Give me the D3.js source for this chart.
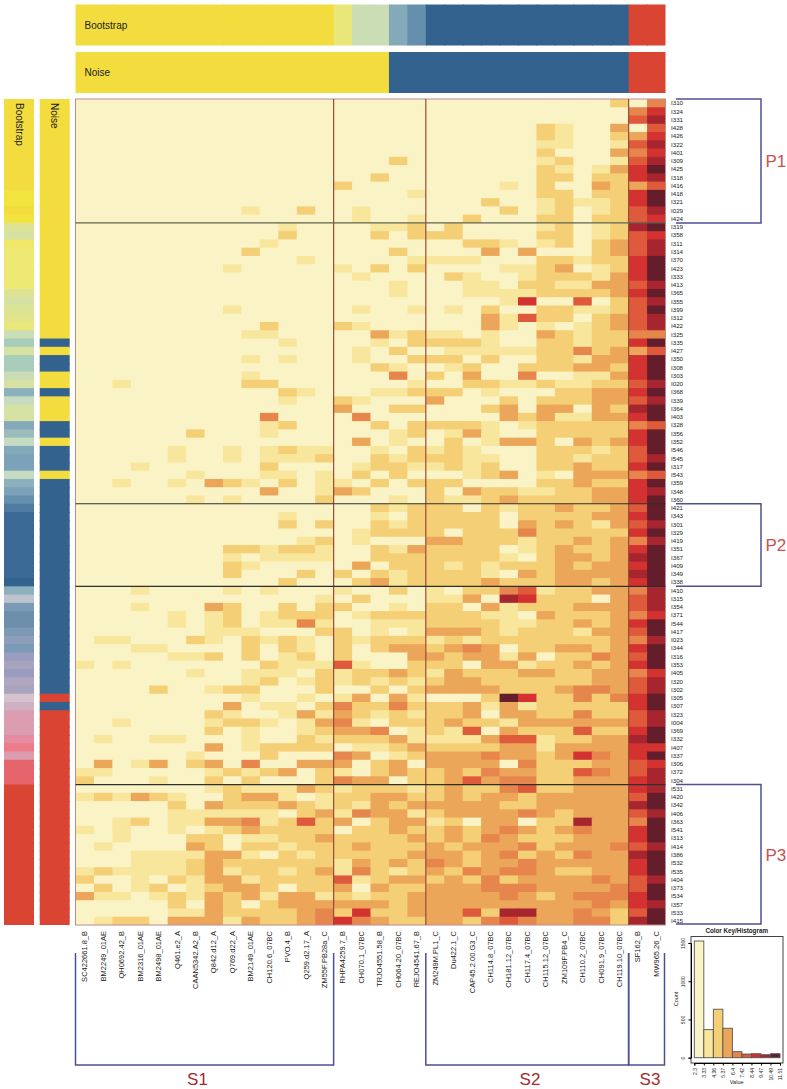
<!DOCTYPE html>
<html>
<head>
<meta charset="utf-8">
<script src="https://cdnjs.cloudflare.com/ajax/libs/d3/7.8.5/d3.min.js"></script>
<style>
html, body { margin: 0; padding: 0; background: #fff; }
svg { display: block; font-family: "Liberation Sans", Arial, sans-serif; }
</style>
</head>
<body>
<div id="viewportContainer"></div>
<script>
/* --- data --- */
const rowLabels = [
"I310","I324","I331","I428","I426","I322","I401","I309","I425","I318","I416","I418","I321","I029","I424",
"I319","I358","I311","I314","I370","I423","I333","I413","I365","I355","I399","I312","I422","I325","I335",
"I427","I350","I308","I303","I020","I368","I339","I364","I403","I328","I356","I352","I546","I545","I317",
"I543","I359","I348","I360","I421","I343","I301","I329","I419","I351","I367","I409","I349","I338","I410",
"I315","I354","I371","I544","I417","I023","I344","I316","I353","I405","I320","I302","I305","I307","I323",
"I004","I369","I332","I407","I337","I306","I372","I304","I531","I420","I342","I406","I363","I541","I313",
"I414","I386","I532","I535","I404","I373","I534","I357","I533","I415"
];

const columnLabels = [
"SC422661.8_B","BM2249_01AE","QH0692.42_B","BM2316_01AE","BM2498_01AE","Q461.e2_A","CAAN5342.A2_B",
"Q842.d12_A","Q769.d22_A","BM2149_01AE","CH120.6_07BC","PVO.4_B","Q259.d2.17_A","ZM55F.PB28a_C",
"RHPA4259.7_B","CH070.1_07BC","TRJO4551.58_B","CH064.20_07BC","REJO4541.67_B",
"ZM249M.PL1_C","Du422.1_C","CAP45.2.00.G3_C","CH114.8_07BC","CH181.12_07BC","CH117.4_07BC",
"CH115.12_07BC","ZM109F.PB4_C","CH110.2_07BC","CH091.9_07BC","CH119.10_07BC",
"SF162_B","MW965.26_C"
];

// one string per row, digit = colour bin of the cell (groups: 14 + 5 + 11 + 2 columns)
const cellBins = [
"00000000000000 00000 00000000002 04",
"00000000000000 00000 00000000000 46",
"00000000000000 00000 00000000000 57",
"00000000000000 00000 00000021003 05",
"00000000000000 00000 00000021002 36",
"00000000000000 00000 00000011001 57",
"00000000000000 00000 00000020003 46",
"00000000000000 00020 00000012001 57",
"00000000000000 00000 00000021013 68",
"00000000000000 00200 00000022022 67",
"00000000000000 20000 00001020032 35",
"00000000000000 00001 00000022022 68",
"00000000000000 00000 00020012112 68",
"00000000010020 01000 00002012012 57",
"00000000000000 01001 00200022022 56",
"00000000000100 00112 02000012012 78",
"00000000000200 00202 22000022012 56",
"00000000001000 00000 00221012023 57",
"00000000020000 00020 00030300023 57",
"00000000000010 00001 11100022122 68",
"00000000100000 10202 00001123012 68",
"00000000000000 01000 02100122213 68",
"00000000000000 00010 00110221133 57",
"00000000000000 00010 00111122223 68",
"00000000000000 00000 00001600502 57",
"00000000100000 01001 01020022112 58",
"00000000000000 00000 00031522023 57",
"00000000002000 21000 00031010123 57",
"00000000011000 00312 11010032122 44",
"00000000000100 00102 22210022122 68",
"00000000000000 01020 01111122423 35",
"00000000010100 01002 22020022133 68",
"00000000000000 00210 01200222332 68",
"00000000010000 00040 20300400113 68",
"00100000022000 00001 00221121122 57",
"00000000000210 00112 22010002233 68",
"00000000000100 21000 30002022233 57",
"00000000000000 30022 00023033032 78",
"00000000004000 04000 00003231133 68",
"00000000001200 00202 22210122222 45",
"00000020001000 00012 01310022222 68",
"00000000000000 03010 02013320323 68",
"00000100101211 00102 12100022212 58",
"00000100101112 00212 22110022122 57",
"00010000002000 01221 12120022322 68",
"00000010001101 02020 00123010333 45",
"00100103210201 10202 22000022322 68",
"00000000003001 32000 20322112233 67",
"00000010100002 00010 21123222233 68",
"00000000000000 00212 22021223223 58",
"00000000000100 00102 22220222233 68",
"00000000000202 00212 22220323213 57",
"00000000000000 01222 20222422222 68",
"00000000000012 01000 33222122323 47",
"00000000221221 00213 22220123223 68",
"00000000101111 00222 22221023323 78",
"00000000210000 03022 21212223233 68",
"00000000200020 20212 22210323333 78",
"00000000000200 02312 22232223323 68",
"00010000101000 10020 10224512233 47",
"00000000000001 02000 11307622203 57",
"00010003200202 20010 22031222333 57",
"00000101201222 01222 22211032223 46",
"00000101201141 00111 22221122323 68",
"00000001110002 20101 33321222133 58",
"01100021021210 21222 12122222223 47",
"00011000020210 20233 23430223323 68",
"00000112020120 20003 32331302243 58",
"10100000002111 51002 22033122323 68",
"00000010011102 12232 13222332233 46",
"00000000012012 12121 23322222233 57",
"00002001220002 00202 33332223443 57",
"00000000010010 13031 00028622424 68",
"00000000301102 42242 22313122222 68",
"00000002100131 32121 22303322422 57",
"00100001221013 41022 23221333333 57",
"00000002010012 33401 21503222522 68",
"01001100010021 22231 11135512233 78",
"00000003012222 01123 22223313333 66",
"00000010002000 43012 33343323643 68",
"03013023040033 30230 33330422233 56",
"11000001212302 10232 23243322543 57",
"20001002020002 43302 23534422333 67",
"00000001211132 12221 23224522333 67",
"12132100233101 22332 23233233333 58",
"00000203222321 21323 33332233333 78",
"00000111111023 14331 23333432333 57",
"00120113341252 30233 12033022733 48",
"10100101232222 02232 23234323433 68",
"00100022011223 22223 23243222333 68",
"01000032022122 23222 32333423334 57",
"00011113310212 22223 33234232433 78",
"00011123222222 13232 43233433333 68",
"12111123122123 14212 32434432233 68",
"20010213312222 51233 23242333343 57",
"02012012332022 30322 33344433334 58",
"31101213231331 21223 33334323444 68",
"00000203202333 33323 33333333343 67",
"00000113222234 26223 33527733432 58",
"01220333132234 64322 33245433442 78"
];

// bootstrap support, as steps along the yellow - blue - red ramp
const rowBootstrap = [
0,0,0,0,0,0,0,0,0,0,0,1,1,0,1,
6,7,2,3,3,3,3,3,6,7,6,5,4,8,10,
7,10,10,8,7,12,9,7,7,13,11,9,13,14,14,
9,12,14,15,16,17,17,17,17,17,17,17,17,18,12,
19,20,21,21,20,22,20,23,24,23,25,24,26,27,28,
28,28,29,30,28,31,31,31,32,32,32,32,32,32,32,
32,32,32,32,32,32,32,32,32,32
];
const columnBootstrap = [0,0,0,0,0,0,0,0,0,0,0,0,0,0,4,8,8,13,15,18,18,18,18,18,18,18,18,18,18,18,32,32];

// noise class per row and per column: 0 yellow, 18 blue, 32 red
const rowNoise = [
0,0,0,0,0,0,0,0,0,0,0,0,0,0,0,
0,0,0,0,0,0,0,0,0,0,0,0,0,0,18,
0,18,18,0,0,18,0,0,0,18,18,0,18,18,18,
0,18,18,18,18,18,18,18,18,18,18,18,18,18,18,
18,18,18,18,18,18,18,18,18,18,18,18,32,18,32,
32,32,32,32,32,32,32,32,32,32,32,32,32,32,32,
32,32,32,32,32,32,32,32,32,32
];
const columnNoise = [0,0,0,0,0,0,0,0,0,0,0,0,0,0,0,0,0,18,18,18,18,18,18,18,18,18,18,18,18,18,32,32];

// colour key histogram
const histEdges = ["2.3","3.33","4.36","5.37","6.4","7.42","8.44","9.47","10.49","11.51"];
const histCounts = [1526,367,634,385,79,48,52,39,52];
const histTicks = [0,500,1000,1500];

// clusters
const columnGroups = [
    {label: "S1", from: 0, to: 14, labelX: 197.5},
    {label: "S2", from: 19, to: 30, labelX: 530},
    {label: "S3", from: 30, to: 32, labelX: 650}
];
const rowGroups = [
    {label: "P1", from: 0, to: 15},
    {label: "P2", from: 49, to: 59},
    {label: "P3", from: 83, to: 100}
];
const rowCuts = [15, 49, 59, 83];
const columnCuts = [14, 19, 30];


/* --- layout --- */
const viewport = {width: 787, height: 1089};
const heat = {left: 75.5, right: 665.5, top: 99, bottom: 925};

const svg = d3.select("#viewportContainer").append("svg")
    .attr("width", viewport.width)
    .attr("height", viewport.height);


/* --- scales --- */
const xScale = d3.scaleBand().domain(d3.range(columnLabels.length)).range([heat.left, heat.right]);
const yScale = d3.scaleBand().domain(d3.range(rowLabels.length)).range([heat.top, heat.bottom]);

// cells run 1px under their right/lower neighbour so no seams show, but stay inside the map
const cellWidth = i => Math.min(xScale.bandwidth() + 1, heat.right - xScale(i));
const cellHeight = i => Math.min(yScale.bandwidth() + 1, heat.bottom - yScale(i));

const binColor = d3.scaleOrdinal()
    .domain(d3.range(9))
    .range(["#FAF3C5","#F8E69D","#F4CF76","#ECA659","#E6864C","#DE5A3B","#D33230","#A6252F","#641D2B"]);

const supportColor = d3.scaleOrdinal()
    .domain(d3.range(33))
    .range(["#F3DC3E","#F2E33F","#F0E768","#EEE875","#E9E67A","#E2E48A","#DCE393","#D5E2A4","#CBDDB5","#C6DCC2",
            "#A9CDBB","#9CBBBB","#8CB0BC","#84A9B8","#7BA2B8","#6490AE","#4F7BA0","#3B6A96","#34628F","#BDC3CF",
            "#7B9AB5","#6E8FAB","#8E9DBA","#9A9DBF","#A8A4BD","#B0A6C0","#D6C2CC","#CFAFC2","#DD9DB0","#E58CA2",
            "#EC7D88","#E6656C","#D94433"]);

// flatten rows
const cells = [];
cellBins.forEach(function(row, r) {
    row.replace(/ /g, "").split("").forEach(function(bin, c) {
        cells.push({r: r, c: c, bin: +bin});
    });
});


/* --- heatmap --- */
svg.append("g").selectAll("rect")
    .data(cells)
    .enter().append("rect")
    .attr("x", d => xScale(d.c))
    .attr("y", d => yScale(d.r))
    .attr("width", d => cellWidth(d.c))
    .attr("height", d => cellHeight(d.r))
    .attr("fill", d => binColor(d.bin));


/* --- annotation bars --- */
function topBar(values, y0, h, name) {
    const g = svg.append("g");
    g.selectAll("rect").data(values).enter().append("rect")
        .attr("x", (d, i) => xScale(i))
        .attr("y", y0)
        .attr("width", (d, i) => cellWidth(i))
        .attr("height", h)
        .attr("fill", d => supportColor(d));
    g.append("text").attr("x", 84.5).attr("y", y0 + h / 2 + 3.5)
        .attr("font-size", 10).attr("fill", "#222").text(name);
}

function sideBar(values, x0, w, name) {
    const g = svg.append("g");
    g.selectAll("rect").data(values).enter().append("rect")
        .attr("x", x0)
        .attr("y", (d, i) => yScale(i))
        .attr("width", w)
        .attr("height", (d, i) => cellHeight(i))
        .attr("fill", d => supportColor(d));
    g.append("text")
        .attr("transform", "translate(" + (x0 + w / 2 - 3.5) + ",103) rotate(90)")
        .attr("font-size", 10).attr("fill", "#222").text(name);
}

topBar(columnBootstrap, 4.5, 41, "Bootstrap");
topBar(columnNoise, 52, 41, "Noise");
sideBar(rowBootstrap, 4, 30, "Bootstrap");
sideBar(rowNoise, 39.7, 30, "Noise");


/* --- separators --- */
const lines = svg.append("g").attr("fill", "none");
lines.append("rect")
    .attr("x", heat.left).attr("y", heat.top)
    .attr("width", heat.right - heat.left).attr("height", heat.bottom - heat.top)
    .attr("stroke", "#C08A8A").attr("stroke-width", 1);
lines.selectAll(".colcut").data(columnCuts).enter().append("line")
    .attr("class", "colcut")
    .attr("x1", d => xScale(d)).attr("x2", d => xScale(d))
    .attr("y1", heat.top).attr("y2", heat.bottom)
    .attr("stroke", "#9A4A3C").attr("stroke-width", 1.2);
lines.selectAll(".rowcut").data(rowCuts).enter().append("line")
    .attr("class", "rowcut")
    .attr("x1", heat.left).attr("x2", heat.right)
    .attr("y1", d => yScale(d)).attr("y2", d => yScale(d))
    .attr("stroke", (d, i) => i === 0 ? "#5E6450" : "#2E3030").attr("stroke-width", 1.2);


/* --- tick labels --- */
svg.append("g").selectAll("text").data(rowLabels).enter().append("text")
    .attr("x", 671)
    .attr("y", (d, i) => yScale(i) + yScale.bandwidth() / 2 + 2.2)
    .attr("font-size", 6.2)
    .attr("fill", "#222")
    .text(d => d);

svg.append("g").selectAll("text").data(columnLabels).enter().append("text")
    .attr("transform", (d, i) => "translate(" + (xScale(i) + xScale.bandwidth() / 2 + 2.6) + ",931) rotate(-90)")
    .attr("text-anchor", "end")
    .attr("font-size", 7.5)
    .attr("fill", "#222")
    .text(d => d);


/* --- cluster brackets --- */
const bracketColor = "#4F4F94";
const columnBracket = svg.append("g").selectAll("g").data(columnGroups).enter().append("g");
columnBracket.append("path")
    .attr("d", function(d) {
        const x0 = xScale(d.from);
        const x1 = d.to < columnLabels.length ? xScale(d.to) : heat.right - 1;
        return d3.line()([[x0, 953], [x0, 1065], [x1, 1065], [x1, 953]]);
    })
    .attr("fill", "none").attr("stroke", bracketColor).attr("stroke-width", 1.5);
columnBracket.append("text")
    .attr("x", d => d.labelX).attr("y", 1084.5)
    .attr("text-anchor", "middle").attr("font-size", 17).attr("fill", "#A32A2E")
    .text(d => d.label);

const rowBracket = svg.append("g").selectAll("g").data(rowGroups).enter().append("g");
rowBracket.append("path")
    .attr("d", function(d) {
        const y0 = yScale(d.from);
        const y1 = d.to < rowLabels.length ? yScale(d.to) : heat.bottom - 1;
        return d3.line()([[676, y0], [761, y0], [761, y1], [676, y1]]);
    })
    .attr("fill", "none").attr("stroke", bracketColor).attr("stroke-width", 1.5);
rowBracket.append("text")
    .attr("x", 765.5)
    .attr("y", d => (yScale(d.from) + (d.to < rowLabels.length ? yScale(d.to) : heat.bottom)) / 2 + 6)
    .attr("font-size", 17).attr("fill", "#C8524F")
    .text(d => d.label);


/* --- colour key / histogram --- */
const histBox = {left: 691, right: 783, top: 936.5, bottom: 1063};
const histX = d3.scaleLinear().domain([0, histCounts.length]).range([694.3, 780]);
const histY = d3.scaleLinear().domain([0, 1500]).range([1057.7, 943]);
const hist = svg.append("g");

hist.append("text").attr("x", 736.7).attr("y", 932.5)
    .attr("text-anchor", "middle").attr("font-size", 6.3).attr("font-weight", "bold").attr("fill", "#222")
    .text("Color Key/Histogram");

hist.append("rect")
    .attr("x", histBox.left).attr("y", histBox.top)
    .attr("width", histBox.right - histBox.left).attr("height", histBox.bottom - histBox.top)
    .attr("fill", "none").attr("stroke", "#444").attr("stroke-width", 1);

hist.selectAll(".bar").data(histCounts).enter().append("rect")
    .attr("class", "bar")
    .attr("x", (d, i) => histX(i))
    .attr("y", d => histY(d))
    .attr("width", histX(1) - histX(0))
    .attr("height", d => histY(0) - histY(d))
    .attr("fill", (d, i) => binColor(i))
    .attr("stroke", "#555").attr("stroke-width", 0.9);

const yAxis = hist.append("g")
    .attr("transform", "translate(" + histBox.left + ",0)")
    .call(d3.axisLeft(histY).tickValues(histTicks).tickSize(2.5).tickFormat(d3.format("d")));
yAxis.selectAll("text")
    .attr("transform", "rotate(-90)")
    .attr("x", 0).attr("y", -6.5).attr("dy", 0)
    .attr("text-anchor", "middle")
    .attr("font-size", 5).attr("font-family", "Liberation Sans").attr("fill", "#222");

const xAxis = hist.append("g")
    .attr("transform", "translate(0," + histBox.bottom + ")")
    .call(d3.axisBottom(histX).tickValues(d3.range(histEdges.length)).tickSize(2.5).tickFormat(i => histEdges[i]));
xAxis.selectAll("text")
    .attr("transform", "rotate(-90)")
    .attr("x", -5).attr("y", 0).attr("dy", "0.35em")
    .attr("text-anchor", "end")
    .attr("font-size", 5).attr("font-family", "Liberation Sans").attr("fill", "#222");

hist.append("text")
    .attr("transform", "translate(678,999) rotate(-90)")
    .attr("text-anchor", "middle").attr("font-size", 5.5).attr("fill", "#222")
    .text("Count");
hist.append("text").attr("x", 736.7).attr("y", 1084)
    .attr("text-anchor", "middle").attr("font-size", 5.5).attr("fill", "#222")
    .text("Value");
</script>
</body>
</html>
